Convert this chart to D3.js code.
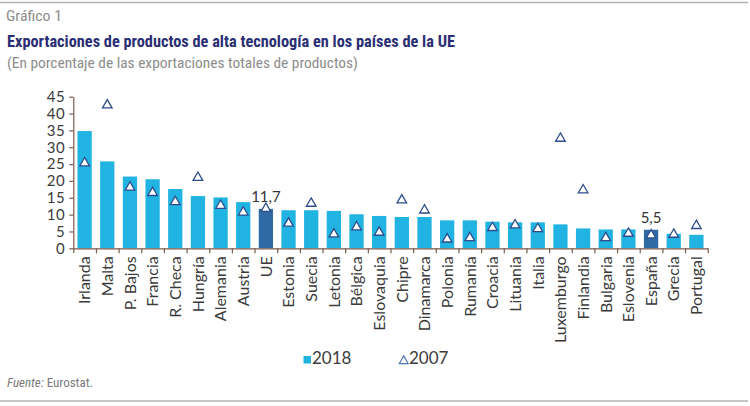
<!DOCTYPE html>
<html>
<head>
<meta charset="utf-8">
<script src="https://cdn.jsdelivr.net/npm/d3@7"></script>
<style>
  html, body { margin: 0; padding: 0; background: #fff; }
  svg { display: block; }
</style>
</head>
<body>
<svg id="chart" width="750" height="406"></svg>
<script>
const categories = ["Irlanda","Malta","P. Bajos","Francia","R. Checa","Hungría","Alemania","Austria","UE","Estonia","Suecia","Letonia","Bélgica","Eslovaquia","Chipre","Dinamarca","Polonia","Rumanía","Croacia","Lituania","Italia","Luxemburgo","Finlandia","Bulgaria","Eslovenia","España","Grecia","Portugal"];
const values2018 = [34.8,25.8,21.3,20.5,17.6,15.5,15.1,13.7,11.7,11.3,11.3,11.1,10.1,9.6,9.3,9.3,8.3,8.3,7.9,7.7,7.7,7.1,5.9,5.6,5.6,5.5,4.3,4.0];
const values2007 = [25.3,42.5,18.1,16.5,13.8,21.0,12.7,10.7,11.8,7.4,13.3,4.2,6.3,4.7,14.3,11.3,2.7,3.1,6.1,6.9,5.8,32.6,17.3,3.1,4.4,3.9,4.1,6.7];
const highlighted = ["UE","España"];
const valueLabels = [{cat:"UE", text:"11,7", v:11.7},{cat:"España", text:"5,5", v:5.5}];
const yTicks = [0,5,10,15,20,25,30,35,40,45];
const seriesNames = ["2018","2007"];

const svg = d3.select("#chart");
const plotLeft = 73.3, plotRight = 707.7, plotTop = 96.7, plotBottom = 248.3;

const numFont = "Lato, 'Open Sans', sans-serif";
const condFont = "'Liberation Sans Narrow', 'Roboto Condensed', 'DejaVu Sans Condensed', sans-serif";
const lightBlue = "#21b3e1";
const darkBlue = "#2f6aa5";
const triStroke = "#2e4d8c";
const axisColor = "#7a5a4c";

// frame lines
svg.append("line").attr("x1",0).attr("x2",748).attr("y1",2.5).attr("y2",2.5)
  .attr("stroke","#b3b3b3").attr("stroke-width",1.5);
svg.append("line").attr("x1",0).attr("x2",748).attr("y1",401).attr("y2",401)
  .attr("stroke","#b3b3b3").attr("stroke-width",1.5);

// titles
svg.append("text").attr("x",6).attr("y",20.5).text("Gráfico 1")
  .attr("font-family",condFont).attr("font-size",15).attr("fill","#8c8c8c")
  .attr("textLength",56).attr("lengthAdjust","spacingAndGlyphs");
svg.append("text").attr("x",7).attr("y",46.5)
  .text("Exportaciones de productos de alta tecnología en los países de la UE")
  .attr("font-family",condFont).attr("font-weight","bold").attr("font-size",17)
  .attr("fill","#2b2f73").attr("textLength",448).attr("lengthAdjust","spacingAndGlyphs");
svg.append("text").attr("x",7).attr("y",68)
  .text("(En porcentaje de las exportaciones totales de productos)")
  .attr("font-family",condFont).attr("font-size",14).attr("fill","#8c8c8c")
  .attr("textLength",351).attr("lengthAdjust","spacingAndGlyphs");

// scales
const x = d3.scaleBand().domain(categories).range([plotLeft,plotRight]).paddingInner(0.37).paddingOuter(0.185);
const xb = d3.scaleLinear().domain([0,categories.length]).range([plotLeft,plotRight]);
const y = d3.scaleLinear().domain([0,45]).range([plotBottom,plotTop]);

// bars
const data = categories.map((c,i)=>({c, v18: values2018[i], v07: values2007[i]}));
svg.append("g").selectAll("rect").data(data).join("rect")
  .attr("x",d=>x(d.c)).attr("width",x.bandwidth())
  .attr("y",d=>y(d.v18)).attr("height",d=>y(0)-y(d.v18))
  .attr("fill",d=>highlighted.includes(d.c)?darkBlue:lightBlue);

// y axis
const yAxis = svg.append("g").attr("transform",`translate(${plotLeft},0)`)
  .call(d3.axisLeft(y).tickValues(yTicks).tickSize(4).tickPadding(4).tickSizeOuter(0));
yAxis.select(".domain").attr("stroke",axisColor).attr("stroke-width",1.2);
yAxis.selectAll(".tick line").attr("stroke",axisColor).attr("stroke-width",1.2);
yAxis.selectAll(".tick text").attr("font-family",numFont).attr("font-size",15)
  .attr("fill","#3c3c3c").attr("letter-spacing",0.6);

// x axis ticks at band boundaries
const xAxisTicks = svg.append("g").attr("transform",`translate(0,${plotBottom})`)
  .call(d3.axisBottom(xb).tickValues(d3.range(categories.length+1)).tickFormat("").tickSize(5).tickSizeOuter(0));
xAxisTicks.select(".domain").attr("stroke",axisColor).attr("stroke-width",1.2);
xAxisTicks.selectAll(".tick line").attr("stroke",axisColor).attr("stroke-width",1.2);

// category labels
const xAxis = svg.append("g").attr("transform",`translate(0,${plotBottom})`)
  .call(d3.axisBottom(x).tickSize(0).tickPadding(0));
xAxis.select(".domain").remove();
xAxis.selectAll(".tick text")
  .attr("transform","translate(0,8) rotate(-90)")
  .attr("text-anchor","end").attr("x",0).attr("y",0).attr("dy","0.36em")
  .attr("font-family",numFont).attr("font-size",16)
  .attr("fill","#3a3a3a");

// triangles 2007
const tri = d3.symbol().type(d3.symbolTriangle).size(40);
svg.append("g").selectAll("path").data(data).join("path")
  .attr("d",tri)
  .attr("transform",d=>`translate(${x(d.c)+x.bandwidth()/2},${y(d.v07)})`)
  .attr("fill","#fff").attr("stroke",triStroke).attr("stroke-width",1.3);

// value labels
svg.append("g").selectAll("text").data(valueLabels).join("text")
  .attr("x",d=>x(d.cat)+x.bandwidth()/2).attr("y",d=>y(d.v)-7)
  .attr("text-anchor","middle").text(d=>d.text)
  .attr("font-family",numFont).attr("font-size",15).attr("fill","#333");

// legend
const lg = svg.append("g");
lg.append("rect").attr("x",303.5).attr("y",356).attr("width",7.5).attr("height",7.5).attr("fill",lightBlue);
lg.append("text").attr("x",312).attr("y",364).text(seriesNames[0])
  .attr("font-family",numFont).attr("font-size",17).attr("fill","#3c3c3c");
lg.append("path").attr("d",d3.symbol().type(d3.symbolTriangle).size(34)())
  .attr("transform","translate(403.7,361)")
  .attr("fill","#fff").attr("stroke","#4a74b0").attr("stroke-width",1.2);
lg.append("text").attr("x",409).attr("y",364).text(seriesNames[1])
  .attr("font-family",numFont).attr("font-size",17).attr("fill","#3c3c3c");

// source
const src = svg.append("text").attr("x",7).attr("y",387)
  .attr("font-family",condFont).attr("font-size",13).attr("fill","#7a7a7a");
src.append("tspan").attr("font-style","italic").text("Fuente:");
src.append("tspan").text(" Eurostat.");
</script>
</body>
</html>
